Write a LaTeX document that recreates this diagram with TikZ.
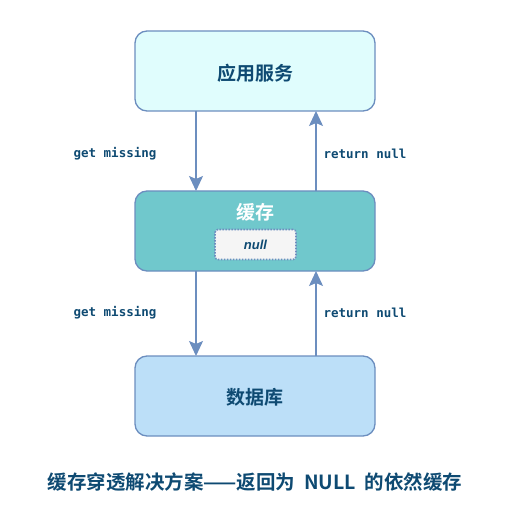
\documentclass[tikz,border=0pt]{standalone}
\usepackage{fontspec}
\setmainfont{Liberation Sans}
\newfontfamily\cjk{Noto Sans CJK SC}[BoldFont={Noto Sans CJK SC Bold}]
\newfontfamily\lblfont{DejaVu Sans Mono}
\newfontfamily\nullvalfont{Liberation Sans}
\usetikzlibrary{arrows.meta}
\definecolor{strokeblue}{HTML}{6C8EBF}
\definecolor{topfill}{HTML}{E0FDFD}
\definecolor{cachefill}{HTML}{70C8CC}
\definecolor{dbfill}{HTML}{BCDFF8}
\definecolor{txtblue}{HTML}{0E4A72}
\definecolor{nullfill}{HTML}{F5F5F5}
\begin{document}
\begin{tikzpicture}[x=1bp,y=-1bp,
  box/.style={draw=strokeblue,line width=1.3bp,rounded corners=12bp,minimum width=240bp,minimum height=80bp,inner sep=0pt},
  flow/.style={draw=strokeblue,line width=1.5bp,-{Stealth[length=15bp,width=14bp,inset=3bp]}},
  lbl/.style={font=\lblfont\bfseries\fontsize{12.5bp}{14bp}\selectfont,text=txtblue},
  cjkbig/.style={font=\cjk\bfseries\fontsize{19bp}{22bp}\selectfont},
  ]
\useasboundingbox (0,0) rectangle (510,531);
\node[box,fill=topfill] (app) at (255,71) {};
\node[cjkbig,text=txtblue] (applbl) at (255,73) {应用服务};
\node[box,fill=cachefill] (cache) at (255,231) {};
\node[cjkbig,text=white] (cachelbl) at (255,212) {缓存};
\node[draw=strokeblue,line width=1.6bp,dash pattern=on 1.6bp off 1.4bp,fill=nullfill,rounded corners=3bp,minimum width=81bp,minimum height=30bp,inner sep=0pt,font=\nullvalfont\bfseries\itshape\fontsize{13bp}{15bp}\selectfont,text=txtblue] (null) at (255.5,244.5) {null};
\node[box,fill=dbfill] (db) at (255,396) {};
\node[cjkbig,text=txtblue] (dblbl) at (255,397) {数据库};

\coordinate (a1) at (196,111);
\coordinate (a2) at (196,191);
\draw[flow] (a1) -- (a2);
\coordinate (b1) at (316,191);
\coordinate (b2) at (316,111);
\draw[flow] (b1) -- (b2);
\coordinate (c1) at (196,271);
\coordinate (c2) at (196,356);
\draw[flow] (c1) -- (c2);
\coordinate (d1) at (316,356);
\coordinate (d2) at (316,271);
\draw[flow] (d1) -- (d2);

\node[lbl] (l1) at (115,154) {get missing};
\node[lbl] (l2) at (365,154) {return null};
\node[lbl] (l3) at (115,313) {get missing};
\node[lbl] (l4) at (365,313) {return null};

\node[font=\cjk\bfseries\fontsize{19.5bp}{22bp}\selectfont,text=txtblue] (title) at (255,482) {缓存穿透解决方案——返回为\ \ NULL\ \ 的依然缓存};
\end{tikzpicture}
\end{document}
